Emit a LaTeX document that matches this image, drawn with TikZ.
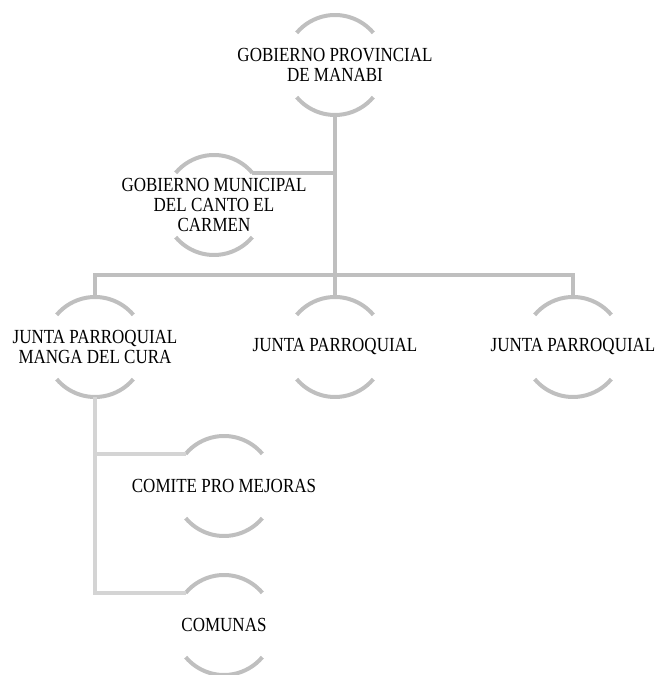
\documentclass[tikz,border=0pt]{standalone}
\usepackage{fontspec}
\setmainfont{Liberation Serif}[FakeStretch=0.85]
\usepackage{tikz}

\definecolor{arcgray}{RGB}{191,191,191}
\definecolor{linegray}{RGB}{212,212,212}

\begin{document}
\begin{tikzpicture}[x=1pt,y=1pt,
  ring/.style={circle,minimum size=100pt,inner sep=0pt,outer sep=0pt},
  txt/.style={align=center,text=black,font=\fontsize{20}{20}\selectfont},
  conn/.style={arcgray,line width=4pt},
  subconn/.style={linegray,line width=4pt}]
\useasboundingbox (0,0) rectangle (659,675);

\node[ring,label={[txt]center:{GOBIERNO PROVINCIAL\\DE MANABI}}] (gob) at (335,610) {};
\node[ring,label={[txt]center:{GOBIERNO MUNICIPAL\\DEL CANTO EL\\CARMEN}}] (mun) at (214,470) {};

\node[ring,label={[txt]center:{JUNTA PARROQUIAL\\MANGA DEL CURA}}] (jmanga) at (95,328) {};
\node[ring,label={[txt]center:{JUNTA PARROQUIAL}}] (jp2) at (335,328) {};
\node[ring,label={[txt]center:{JUNTA PARROQUIAL}}] (jp3) at (573,328) {};

\node[ring,label={[txt]center:{COMITE PRO MEJORAS}}] (comite) at (224,189) {};
\node[ring,label={[txt]center:{COMUNAS}}] (comunas) at (224,50) {};

% arcs round each box
\foreach \n in {gob,mun,jmanga,jp2,jp3,comite,comunas}
  \draw[conn] (\n.40) arc[start angle=40,end angle=140,radius=50pt]
              (\n.220) arc[start angle=220,end angle=320,radius=50pt];

% connectors
\coordinate (bar) at (335,400);
\draw[conn] (gob.south) -- (jp2.north);
\draw[conn] (mun.40) -- (mun.40 -| gob.south);
\draw[conn] (jmanga.north) |- (bar) -| (jp3.north);

\draw[subconn] (jmanga.south) |- (comite.140);
\draw[subconn] (jmanga.south) |- (comunas.140);
\end{tikzpicture}
\end{document}
